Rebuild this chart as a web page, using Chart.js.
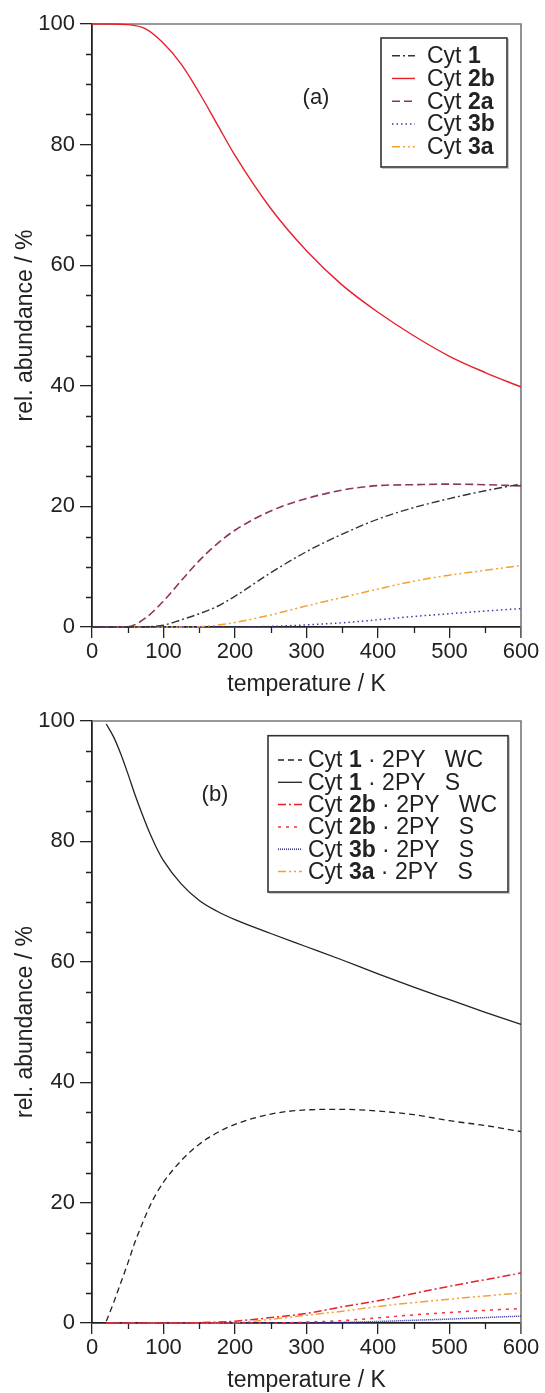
<!DOCTYPE html>
<html><head><meta charset="utf-8">
<script src="https://cdn.jsdelivr.net/npm/chart.js@4/dist/chart.umd.min.js"></script>
<style>
html,body{margin:0;padding:0;background:#fff;}
#wrap{position:relative;width:545px;height:1393px;overflow:hidden;}
.c{position:absolute;left:0;width:545px;}
</style></head><body>
<div id="wrap">
<div class="c" style="top:0;height:697px"><canvas id="ca" width="545" height="697"></canvas></div>
<div class="c" style="top:697px;height:696px"><canvas id="cb" width="545" height="696"></canvas></div>
</div>
<script>
// ---------- data: panel (a) ----------
const tempA = [0,25,50,75,100,125,150,175,200,250,300,350,400,450,500,550,600];
const cyt1A  = [0,0,0,0.05,0.3,1.2,2.2,3.4,5.1,9.0,12.5,15.4,17.9,19.8,21.3,22.6,23.7];
const cyt2bA = [100,100,99.9,99.2,96.8,93.3,88.6,83.4,78.2,69.4,62.4,56.7,52.2,48.3,44.9,42.2,39.8];
const cyt2aA = [0,0,0.05,1.5,4.3,7.7,11.0,13.8,16.05,19.25,21.3,22.7,23.45,23.6,23.7,23.6,23.4];
const cyt3bA = [0,0,0,0,0,0,0,0,0,0.1,0.35,0.7,1.2,1.75,2.2,2.65,3.05];
const cyt3aA = [0,0,0,0,0,0,0.05,0.3,0.75,2.0,3.5,4.9,6.3,7.6,8.6,9.4,10.2];
const legendA = [["Cyt ","1",""],["Cyt ","2b",""],["Cyt ","2a",""],["Cyt ","3b",""],["Cyt ","3a",""]];

// ---------- data: panel (b) ----------
const tempB = [20,30,40,50,60,70,80,90,100,125,150,175,200,250,300,350,400,450,500,550,600];
const wc1B  = [0.3,3.3,6.6,9.9,13.4,16.4,19.2,21.5,23.4,27.0,29.7,31.6,33.0,34.7,35.4,35.5,35.2,34.6,33.6,32.8,31.8];
const s1B   = [99.5,97.4,94.6,91.3,87.8,84.6,81.6,79.0,76.8,72.9,70.2,68.4,67.0,64.7,62.5,60.3,58.0,55.8,53.7,51.6,49.6];
const wc2bB = [0,0,0,0,0,0,0,0,0,0,0.05,0.15,0.3,0.9,1.6,2.7,3.7,4.9,6.1,7.2,8.3];
const s2bB  = [0,0,0,0,0,0,0,0,0,0,0,0,0,0,0.15,0.4,0.85,1.35,1.75,2.1,2.4];
const s3bB  = [0,0,0,0,0,0,0,0,0,0,0,0,0,0,0,0.1,0.25,0.45,0.65,0.9,1.15];
const s3aB  = [0,0,0,0,0,0,0,0,0,0,0,0,0.05,0.6,1.3,1.95,2.75,3.4,3.95,4.5,5.0];
const legendB = [["Cyt ","1"," \u00b7 2PY   WC"],["Cyt ","1"," \u00b7 2PY   S"],["Cyt ","2b"," \u00b7 2PY   WC"],
                 ["Cyt ","2b"," \u00b7 2PY   S"],["Cyt ","3b"," \u00b7 2PY   S"],["Cyt ","3a"," \u00b7 2PY   S"]];

// ---------- ticks ----------
const xTicks = [0,100,200,300,400,500,600];
const xMinor = [50,150,250,350,450,550];
const yTicks = [0,20,40,60,80,100];
const yMinor = [5,10,15,25,30,35,45,50,55,65,70,75,85,90,95];
const xTitle = "temperature / K";
const yTitle = "rel. abundance / %";

const FAM = '"Liberation Sans", Arial, Helvetica, sans-serif';
const TXT = '#222';
Chart.defaults.font.family = FAM;

function pts(xs, ys){ return xs.map((x,i)=>({x:x, y:ys[i]})); }

const decor = {
  id:'decor',
  beforeDatasetsDraw(chart){
    const {ctx, chartArea:a, scales:{x,y}} = chart;
    ctx.save();
    ctx.strokeStyle='#777'; ctx.lineWidth=1.6;
    ctx.beginPath(); ctx.moveTo(a.left,a.top); ctx.lineTo(a.right,a.top); ctx.lineTo(a.right,a.bottom+11); ctx.stroke();
    ctx.strokeStyle='#222'; ctx.lineWidth=1.3;
    ctx.beginPath();
    yMinor.forEach(v=>{const p=Math.round(y.getPixelForValue(v))+0.5; ctx.moveTo(a.left-6,p); ctx.lineTo(a.left,p);});
    xMinor.forEach(v=>{const p=Math.round(x.getPixelForValue(v))+0.5; ctx.moveTo(p,a.bottom); ctx.lineTo(p,a.bottom+6);});
    ctx.stroke();
    ctx.restore();
  },
  afterDraw(chart){
    const o = chart.options.plugins.decor;
    const ctx = chart.ctx;
    ctx.save();
    ctx.fillStyle=TXT; ctx.textAlign='center'; ctx.textBaseline='middle';
    ctx.font = '22px '+FAM;
    ctx.fillText(o.panel, o.px, o.py);
    const L = o.box;
    ctx.strokeStyle='#c8c8c8'; ctx.lineWidth=1; ctx.strokeRect(L.x+1.5,L.y+1.5,L.w,L.h);
    ctx.fillStyle='#fff'; ctx.fillRect(L.x,L.y,L.w,L.h);
    ctx.strokeStyle='#333'; ctx.lineWidth=1.6; ctx.strokeRect(L.x,L.y,L.w,L.h);
    ctx.textAlign='left';
    chart.data.datasets.forEach((ds,i)=>{
      const yy = L.row0 + i*L.rowH;
      ctx.setLineDash(ds.borderDash||[]);
      ctx.strokeStyle=ds.borderColor; ctx.lineWidth=ds.borderWidth;
      ctx.beginPath(); ctx.moveTo(L.sx0,yy); ctx.lineTo(L.sx1,yy); ctx.stroke();
      ctx.setLineDash([]);
      let xx = L.tx;
      ctx.fillStyle=TXT;
      o.labels[i].forEach((p,k)=>{
        ctx.font = (k===1?'bold ':'') + L.fs + 'px ' + FAM;
        ctx.fillText(p, xx, yy+1);
        xx += ctx.measureText(p).width;
      });
    });
    ctx.restore();
  }
};

function scales(){
  return {
    x:{type:'linear', min:0, max:600,
       afterBuildTicks:s=>{s.ticks = xTicks.map(v=>({value:v}));},
       afterFit:s=>{s.height=70;},
       border:{color:'#222', width:1.8},
       grid:{drawOnChartArea:false, drawTicks:true, tickLength:11, color:'#222', lineWidth:1.3},
       ticks:{font:{size:22}, color:TXT, padding:1, maxRotation:0, autoSkip:false},
       title:{display:true, text:xTitle, font:{size:23}, color:TXT, padding:{top:0,bottom:-1}}},
    y:{type:'linear', min:0, max:100,
       afterBuildTicks:s=>{s.ticks = yTicks.map(v=>({value:v}));},
       afterFit:s=>{s.width=92;},
       border:{color:'#222', width:1.8},
       grid:{drawOnChartArea:false, drawTicks:true, tickLength:12, color:'#222', lineWidth:1.3},
       ticks:{font:{size:22}, color:TXT, padding:5, autoSkip:false},
       title:{display:true, text:yTitle, font:{size:23}, color:TXT, padding:{top:12,bottom:0}}}
  };
}

function ds(label, xs, ys, color, dash, w){
  return {label:label, data:pts(xs,ys), borderColor:color, backgroundColor:color, borderDash:dash,
          borderWidth:w, pointRadius:0, fill:false, cubicInterpolationMode:'monotone', clip:6};
}

function common(){
  return {responsive:false, animation:false, devicePixelRatio:1,
          layout:{padding:{top:24,right:24,left:0,bottom:0}},
          scales:scales(), parsing:false};
}

const optA = common();
optA.plugins = {legend:{display:false}, tooltip:{enabled:false},
  decor:{panel:'(a)', px:316, py:98, labels:legendA,
         box:{x:381,y:38,w:126,h:129,row0:55.7,rowH:22.75,sx0:392,sx1:415,tx:427,fs:23}}};
new Chart(document.getElementById('ca'), {
  type:'line',
  data:{datasets:[
    ds('Cyt 1', tempA, cyt1A, '#333333', [8,3,2,3], 1.4),
    ds('Cyt 2b', tempA, cyt2bA, '#e8202a', [], 1.4),
    ds('Cyt 2a', tempA, cyt2aA, '#8c3464', [8,4], 1.6),
    ds('Cyt 3b', tempA, cyt3bA, '#3a3aa8', [1.5,3], 1.5),
    ds('Cyt 3a', tempA, cyt3aA, '#f5a033', [8,3,2,3,2,3], 1.5)
  ]},
  options:optA, plugins:[decor]
});

const optB = common();
optB.plugins = {legend:{display:false}, tooltip:{enabled:false},
  decor:{panel:'(b)', px:215, py:98, labels:legendB,
         box:{x:268,y:38.7,w:240,h:156.3,row0:63,rowH:22.3,sx0:278,sx1:302,tx:308,fs:23}}};
new Chart(document.getElementById('cb'), {
  type:'line',
  data:{datasets:[
    ds('Cyt 1 · 2PY WC', tempB, wc1B, '#222222', [6,4], 1.3),
    ds('Cyt 1 · 2PY S', tempB, s1B, '#222222', [], 1.3),
    ds('Cyt 2b · 2PY WC', tempB, wc2bB, '#e8202a', [8,3,2,3], 1.5),
    ds('Cyt 2b · 2PY S', tempB, s2bB, '#f0303c', [3,5], 1.5),
    ds('Cyt 3b · 2PY S', tempB, s3bB, '#2a2a9a', [1,1], 1.5),
    ds('Cyt 3a · 2PY S', tempB, s3aB, '#f5a033', [8,3,2,3,2,3], 1.5)
  ]},
  options:optB, plugins:[decor]
});
</script>
</body></html>
